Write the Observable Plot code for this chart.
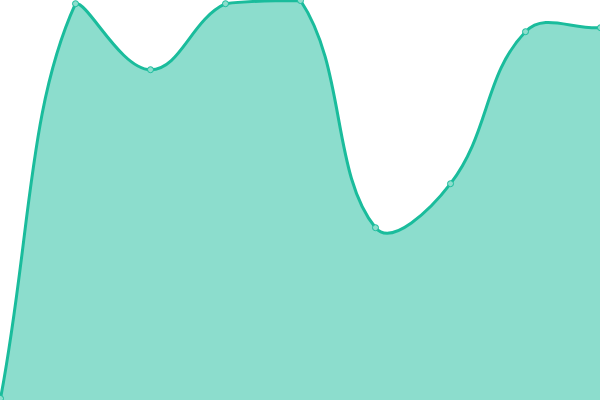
<!DOCTYPE html>
<html>
<head>
<meta charset="utf-8">
<script src="https://cdn.jsdelivr.net/npm/d3@7"></script>
<script src="https://cdn.jsdelivr.net/npm/@observablehq/plot@0.6"></script>
<style>
  html, body { margin: 0; padding: 0; background: #fff; }
  #chart svg { display: block; }
</style>
</head>
<body>
<div id="chart"></div>
<script>
const categories = [0, 1, 2, 3, 4, 5, 6, 7, 8];
const values = [0.5, 99.2, 82.7, 99.2, 100, 43.2, 54.2, 92.2, 93.2];

const W = 600, H = 400;
const data = categories.map((c, i) => ({x: c, y: values[i]}));

// Tension spline with control points capped to the plot area
function splineCurve(tension, x0, y0, x1, y1) {
  function Curve(context) { this._context = context; }
  Curve.prototype = {
    areaStart() { this._line = 0; },
    areaEnd() { this._line = NaN; },
    lineStart() { this._pts = []; },
    point(x, y) { this._pts.push([+x, +y]); },
    lineEnd() {
      const p = this._pts, n = p.length, ctx = this._context;
      if (n) {
        const cp = p.map((cur, i) => {
          const prev = p[i - 1] || cur, next = p[i + 1] || cur;
          const d01 = Math.hypot(cur[0] - prev[0], cur[1] - prev[1]);
          const d12 = Math.hypot(next[0] - cur[0], next[1] - cur[1]);
          let s01 = d01 / (d01 + d12), s12 = d12 / (d01 + d12);
          if (!isFinite(s01)) s01 = 0;
          if (!isFinite(s12)) s12 = 0;
          const fa = tension * s01, fb = tension * s12;
          const cx = (v) => Math.max(x0, Math.min(x1, v));
          const cy = (v) => Math.max(y0, Math.min(y1, v));
          return {
            px: cx(cur[0] - fa * (next[0] - prev[0])),
            py: cy(cur[1] - fa * (next[1] - prev[1])),
            nx: cx(cur[0] + fb * (next[0] - prev[0])),
            ny: cy(cur[1] + fb * (next[1] - prev[1]))
          };
        });
        if (this._line) ctx.lineTo(p[0][0], p[0][1]); else ctx.moveTo(p[0][0], p[0][1]);
        for (let i = 1; i < n; i++) {
          ctx.bezierCurveTo(cp[i - 1].nx, cp[i - 1].ny, cp[i].px, cp[i].py, p[i][0], p[i][1]);
        }
      }
      if (this._line || (this._line !== 0 && n === 1)) ctx.closePath();
      this._line = 1 - this._line;
    }
  };
  return (context) => new Curve(context);
}
const curve = splineCurve(0.4, 0, 0, W, H);

const chart = Plot.plot({
  width: W,
  height: H,
  margin: 0,
  x: {domain: [0, 8], range: [0, W], axis: null},
  y: {domain: [0, 100], range: [H, 0], axis: null},
  marks: [
    Plot.areaY(data, {x: "x", y: "y", curve, fill: "#1abc9c", fillOpacity: 0.5}),
    Plot.lineY(data, {x: "x", y: "y", curve, stroke: "#1abc9c", strokeWidth: 3}),
    Plot.dot(data, {x: "x", y: "y", r: 3, fill: "#8ddecd", stroke: "#1abc9c", strokeWidth: 1})
  ]
});
document.getElementById("chart").appendChild(chart);
</script>
</body>
</html>
